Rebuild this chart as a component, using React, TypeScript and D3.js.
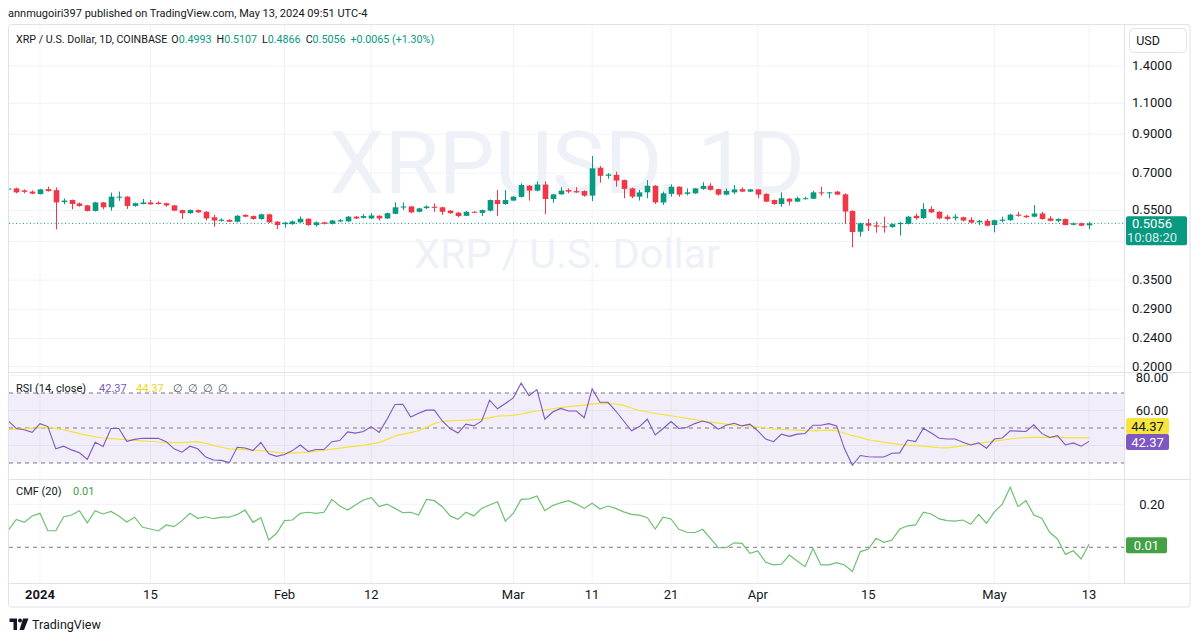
import React from "react";
import * as d3 from "d3";

// ---------- DATA ----------
const FIRST_DAY = "2023-12-28"; // first (partly clipped) daily candle

const opens = [
  0.629, 0.634, 0.626, 0.621, 0.611, 0.631, 0.627, 0.580, 0.588, 0.575,
  0.568, 0.548, 0.579, 0.561, 0.597, 0.601, 0.566, 0.573, 0.579, 0.578,
  0.576, 0.568, 0.551, 0.540, 0.551, 0.545, 0.526, 0.514, 0.517, 0.511,
  0.534, 0.530, 0.520, 0.536, 0.511, 0.503, 0.503, 0.509, 0.521, 0.500,
  0.509, 0.504, 0.512, 0.512, 0.528, 0.524, 0.522, 0.531, 0.522, 0.538,
  0.560, 0.564, 0.545, 0.558, 0.563, 0.561, 0.549, 0.542, 0.531, 0.545,
  0.541, 0.549, 0.588, 0.573, 0.586, 0.600, 0.645, 0.625, 0.650, 0.592,
  0.610, 0.627, 0.623, 0.623, 0.605, 0.725, 0.688, 0.692, 0.669, 0.634,
  0.601, 0.618, 0.645, 0.579, 0.612, 0.641, 0.612, 0.614, 0.632, 0.645,
  0.631, 0.609, 0.618, 0.631, 0.621, 0.630, 0.612, 0.588, 0.573, 0.593,
  0.582, 0.592, 0.593, 0.618, 0.614, 0.621, 0.610, 0.548, 0.479, 0.506,
  0.499, 0.496, 0.494, 0.503, 0.504, 0.531, 0.523, 0.555, 0.545, 0.528,
  0.523, 0.526, 0.517, 0.509, 0.514, 0.500, 0.514, 0.516, 0.535, 0.531,
  0.528, 0.539, 0.522, 0.514, 0.520, 0.501, 0.506, 0.4993,
];
const highs = [
  0.636, 0.637, 0.630, 0.626, 0.632, 0.641, 0.638, 0.594, 0.590, 0.579,
  0.570, 0.581, 0.580, 0.617, 0.621, 0.603, 0.578, 0.592, 0.588, 0.583,
  0.578, 0.570, 0.552, 0.553, 0.553, 0.547, 0.534, 0.522, 0.519, 0.534,
  0.536, 0.532, 0.538, 0.538, 0.513, 0.511, 0.515, 0.529, 0.522, 0.512,
  0.511, 0.517, 0.520, 0.530, 0.530, 0.537, 0.540, 0.533, 0.542, 0.579,
  0.579, 0.566, 0.559, 0.568, 0.575, 0.563, 0.551, 0.544, 0.547, 0.547,
  0.553, 0.590, 0.627, 0.627, 0.603, 0.655, 0.648, 0.663, 0.664, 0.612,
  0.639, 0.634, 0.639, 0.626, 0.782, 0.733, 0.700, 0.706, 0.671, 0.637,
  0.628, 0.669, 0.648, 0.621, 0.651, 0.643, 0.634, 0.636, 0.660, 0.656,
  0.633, 0.634, 0.648, 0.638, 0.632, 0.632, 0.614, 0.590, 0.618, 0.595,
  0.601, 0.601, 0.625, 0.641, 0.620, 0.624, 0.614, 0.550, 0.508, 0.520,
  0.512, 0.528, 0.505, 0.510, 0.530, 0.539, 0.576, 0.565, 0.547, 0.534,
  0.537, 0.528, 0.526, 0.517, 0.520, 0.518, 0.528, 0.538, 0.545, 0.534,
  0.569, 0.545, 0.530, 0.522, 0.522, 0.508, 0.508, 0.5107,
];
const lows = [
  0.627, 0.614, 0.614, 0.611, 0.610, 0.621, 0.486, 0.572, 0.554, 0.563,
  0.546, 0.546, 0.554, 0.549, 0.585, 0.555, 0.563, 0.572, 0.570, 0.571,
  0.563, 0.547, 0.520, 0.538, 0.541, 0.515, 0.495, 0.511, 0.510, 0.509,
  0.526, 0.518, 0.518, 0.507, 0.487, 0.492, 0.501, 0.507, 0.498, 0.495,
  0.502, 0.502, 0.509, 0.511, 0.520, 0.522, 0.520, 0.515, 0.520, 0.536,
  0.551, 0.540, 0.543, 0.555, 0.545, 0.534, 0.538, 0.526, 0.530, 0.541,
  0.530, 0.546, 0.530, 0.570, 0.584, 0.598, 0.586, 0.622, 0.537, 0.578,
  0.608, 0.614, 0.616, 0.601, 0.584, 0.658, 0.675, 0.641, 0.595, 0.595,
  0.586, 0.595, 0.573, 0.570, 0.601, 0.601, 0.606, 0.612, 0.628, 0.625,
  0.605, 0.606, 0.611, 0.619, 0.619, 0.595, 0.580, 0.570, 0.563, 0.568,
  0.580, 0.590, 0.592, 0.605, 0.595, 0.607, 0.503, 0.433, 0.464, 0.481,
  0.476, 0.476, 0.491, 0.467, 0.502, 0.518, 0.520, 0.540, 0.519, 0.515,
  0.515, 0.512, 0.506, 0.500, 0.496, 0.477, 0.509, 0.514, 0.528, 0.524,
  0.526, 0.518, 0.512, 0.509, 0.499, 0.499, 0.496, 0.4866,
];
const closes = [
  0.634, 0.618, 0.620, 0.613, 0.630, 0.623, 0.579, 0.586, 0.573, 0.566,
  0.548, 0.579, 0.561, 0.601, 0.601, 0.566, 0.576, 0.579, 0.572, 0.573,
  0.568, 0.549, 0.540, 0.551, 0.543, 0.522, 0.515, 0.518, 0.511, 0.531,
  0.528, 0.520, 0.536, 0.509, 0.500, 0.508, 0.512, 0.521, 0.500, 0.509,
  0.504, 0.515, 0.516, 0.528, 0.522, 0.530, 0.532, 0.522, 0.540, 0.561,
  0.564, 0.543, 0.557, 0.564, 0.559, 0.545, 0.540, 0.530, 0.545, 0.543,
  0.551, 0.588, 0.573, 0.588, 0.601, 0.648, 0.625, 0.650, 0.592, 0.610,
  0.625, 0.621, 0.618, 0.605, 0.722, 0.688, 0.694, 0.667, 0.632, 0.601,
  0.618, 0.645, 0.579, 0.614, 0.641, 0.609, 0.618, 0.634, 0.644, 0.628,
  0.609, 0.624, 0.630, 0.621, 0.630, 0.609, 0.582, 0.573, 0.595, 0.582,
  0.595, 0.595, 0.618, 0.614, 0.618, 0.609, 0.546, 0.478, 0.506, 0.498,
  0.495, 0.494, 0.503, 0.507, 0.528, 0.523, 0.555, 0.543, 0.522, 0.520,
  0.528, 0.515, 0.508, 0.514, 0.498, 0.516, 0.518, 0.535, 0.531, 0.526,
  0.539, 0.520, 0.514, 0.520, 0.500, 0.506, 0.498, 0.5056,
];
const rsiValues = [
  54.0, 49.7, 49.0, 47.5, 52.5, 50.8, 38.1, 39.6, 37.5, 35.8,
  32.1, 41.8, 39.4, 49.7, 49.7, 42.4, 43.5, 44.1, 44.1, 44.1,
  42.2, 38.1, 36.2, 39.6, 38.1, 33.4, 31.7, 31.5, 30.2, 39.0,
  38.6, 37.1, 41.8, 35.3, 33.8, 34.9, 37.1, 40.3, 36.6, 37.7,
  37.7, 42.2, 42.8, 47.8, 47.1, 48.0, 50.8, 47.5, 55.0, 63.4,
  63.6, 56.3, 58.4, 60.2, 60.2, 54.0, 49.7, 47.1, 52.2, 51.2,
  54.0, 65.9, 61.0, 64.0, 67.2, 75.6, 68.5, 71.9, 55.0, 59.1,
  61.2, 59.7, 59.7, 55.9, 72.3, 64.7, 64.7, 59.7, 54.0, 48.4,
  50.8, 55.0, 46.0, 49.7, 53.7, 49.7, 50.3, 52.5, 54.0, 52.7,
  49.3, 51.6, 52.7, 51.2, 52.2, 48.4, 43.7, 42.2, 46.5, 45.2,
  46.5, 46.9, 51.6, 51.6, 52.5, 51.2, 38.1, 28.7, 34.3, 33.6,
  33.4, 33.4, 35.6, 35.8, 43.1, 42.2, 49.9, 47.1, 44.1, 43.7,
  43.7, 41.8, 40.3, 41.5, 38.4, 43.7, 44.3, 48.4, 48.2, 48.0,
  51.8, 46.9, 44.6, 45.6, 40.3, 41.5, 39.6, 42.37,
];
const rsiMaValues = [
  49.2, 49.4, 49.6, 49.9, 50.2, 50.3, 49.8, 49.0, 47.9, 46.8,
  45.8, 45.0, 44.3, 43.9, 43.6, 43.3, 42.9, 42.6, 42.3, 42.0,
  41.8, 41.6, 41.6, 41.9, 42.2, 41.2, 40.1, 39.0, 38.1, 37.9,
  37.6, 37.3, 37.1, 36.7, 36.1, 35.7, 35.7, 35.9, 36.2, 36.7,
  37.3, 37.9, 38.5, 39.1, 39.6, 40.1, 40.9, 41.8, 43.5, 45.4,
  46.5, 47.4, 48.4, 50.5, 52.6, 53.7, 54.1, 54.3, 54.5, 54.8,
  55.1, 55.8, 56.8, 57.0, 57.2, 58.0, 58.9, 59.7, 60.3, 61.0,
  61.6, 62.2, 62.6, 63.1, 63.8, 63.9, 63.9, 63.7, 62.9, 61.4,
  60.0, 59.3, 58.3, 57.6, 57.0, 56.3, 55.5, 54.8, 54.0, 53.4,
  52.8, 52.2, 51.6, 51.4, 51.2, 50.6, 50.0, 49.5, 49.2, 49.0,
  48.8, 48.5, 48.4, 48.6, 48.8, 48.4, 47.0, 45.6, 44.6, 43.3,
  42.6, 41.8, 41.2, 40.6, 40.2, 40.0, 39.6, 39.2, 38.8, 38.7,
  39.2, 39.9, 40.6, 41.2, 41.9, 42.5, 43.1, 43.7, 44.3, 44.5,
  44.6, 44.6, 44.6, 44.6, 44.5, 44.4, 44.4, 44.37,
];
const cmfValues = [
  0.080, 0.130, 0.116, 0.146, 0.158, 0.077, 0.077, 0.142, 0.150, 0.170,
  0.114, 0.170, 0.155, 0.167, 0.146, 0.118, 0.140, 0.093, 0.085, 0.076,
  0.104, 0.096, 0.124, 0.158, 0.135, 0.142, 0.133, 0.140, 0.140, 0.153,
  0.173, 0.116, 0.138, 0.034, 0.065, 0.124, 0.127, 0.158, 0.163, 0.158,
  0.163, 0.223, 0.192, 0.173, 0.197, 0.220, 0.231, 0.189, 0.201, 0.181,
  0.161, 0.163, 0.150, 0.223, 0.217, 0.189, 0.146, 0.130, 0.163, 0.146,
  0.181, 0.197, 0.212, 0.122, 0.158, 0.223, 0.225, 0.239, 0.170, 0.194,
  0.207, 0.217, 0.201, 0.181, 0.205, 0.178, 0.192, 0.181, 0.165, 0.153,
  0.150, 0.138, 0.085, 0.140, 0.132, 0.084, 0.070, 0.068, 0.084, 0.042,
  -0.002, -0.002, 0.021, 0.018, -0.028, -0.017, -0.070, -0.082, -0.079, -0.036,
  -0.064, -0.090, -0.005, -0.082, -0.082, -0.071, -0.082, -0.113, -0.020, -0.009,
  0.042, 0.023, 0.034, 0.085, 0.100, 0.104, 0.163, 0.155, 0.132, 0.124,
  0.122, 0.127, 0.107, 0.153, 0.112, 0.165, 0.201, 0.279, 0.189, 0.217,
  0.150, 0.135, 0.070, 0.039, -0.033, -0.016, -0.054, 0.014,
];

const priceTicks = [1.4, 1.1, 0.9, 0.7, 0.55, 0.45, 0.35, 0.29, 0.24, 0.2];
const rsiTicks = [80, 60, 40];
const rsiAxisLabels = [80, 60];
const rsiBands = [70, 50, 30];
const cmfTicks = [0.2];
const timeTickDates = [
  "2024-01-01", "2024-01-15", "2024-02-01", "2024-02-12", "2024-03-01", "2024-03-11",
  "2024-03-21", "2024-04-01", "2024-04-15", "2024-05-01", "2024-05-13",
];
const timeTickLabels = ["2024", "15", "Feb", "12", "Mar", "11", "21", "Apr", "15", "May", "13"];

const lastClose = 0.5056;
const lastChange = "+0.0065 (+1.30%)";
const lastRsi = 42.37;
const lastRsiMa = 44.37;
const lastCmf = 0.01;

// ---------- LAYOUT ----------
const W = 1200;
const H = 640;
const PL = 9; // plot left
const PR = 1124; // plot right / price axis start
const FR = 1190; // frame right
const P_TOP = 24;
const P_BOT = 372;
const R_BOT = 479;
const C_BOT = 583;
const A_BOT = 607;

const UP = "#089981";
const DOWN = "#f23645";
const GRID = "#f0f3fa";
const TEXT = "#131722";
const FONT = "Roboto, 'Liberation Sans', Arial, sans-serif";

const DAY = 86400000;
const jan1 = Date.UTC(2024, 0, 1);
const first = new Date(FIRST_DAY + "T00:00:00Z");
const dates = opens.map((_, i) => d3.utcDay.offset(first, i));

const x = d3
  .scaleUtc()
  .domain([new Date(jan1 - 3.93 * DAY), new Date(jan1 + 137.43 * DAY)])
  .range([PL, PR]);

const yPrice = d3.scaleLog().domain([0.1932, 1.8256]).range([372, 25]);
const yRsi = d3.scaleLinear().domain([20.857, 82]).range([479, 372]);
const yCmf = d3.scaleLinear().domain([-0.166, 0.3177]).range([583, 479]);

const fmt4 = d3.format(".4f");
const fmt2 = d3.format(".2f");

export default function App() {
  const bodyW = 5.6;
  const rsiLine = d3
    .line<number>()
    .x((_, i) => x(dates[i]))
    .y((v) => yRsi(v));
  const cmfLine = d3
    .line<number>()
    .x((_, i) => x(dates[i]))
    .y((v) => yCmf(v));
  const tickX = timeTickDates.map((s) => x(new Date(s + "T00:00:00Z")));
  const yLast = yPrice(lastClose);
  const boxTop = yLast - 7;
  const boxBot = yLast + 22;
  // labels hidden behind the last-price box (as in the reference)
  const visiblePriceLabels = priceTicks.filter((p) => {
    const ty = yPrice(p);
    return ty < boxTop - 5 || ty > boxBot + 5;
  });
  const n = opens.length - 1;

  return (
    <svg
      width={W}
      height={H}
      viewBox={`0 0 ${W} ${H}`}
      style={{ position: "absolute", left: 0, top: 0, display: "block", background: "#fff" }}
      fontFamily={FONT}
    >
      <defs>
        <clipPath id="clipPrice">
          <rect x={PL} y={P_TOP} width={PR - PL} height={P_BOT - P_TOP} />
        </clipPath>
        <clipPath id="clipRsi">
          <rect x={PL} y={P_BOT} width={PR - PL} height={R_BOT - P_BOT} />
        </clipPath>
        <clipPath id="clipCmf">
          <rect x={PL} y={R_BOT} width={PR - PL} height={C_BOT - R_BOT} />
        </clipPath>
        <clipPath id="clipRsiAxis">
          <rect x={PR} y={P_BOT + 1} width={FR - PR} height={R_BOT - P_BOT - 1} />
        </clipPath>
      </defs>
      <rect x={0} y={0} width={W} height={H} fill="#fff" />

      {/* publisher line */}
      <text x={8} y={17} fontSize={11} fill={TEXT}>
        annmugoiri397 published on TradingView.com, May 13, 2024 09:51 UTC-4
      </text>

      {/* frame */}
      <rect x={8.5} y={P_TOP + 0.5} width={FR - 8.5} height={A_BOT - P_TOP - 0.5} rx={3} fill="#fff" stroke="#e0e3eb" />

      {/* vertical grid */}
      {tickX.map((tx, i) => (
        <line key={"vg" + i} x1={tx} x2={tx} y1={P_TOP + 1} y2={C_BOT} stroke={GRID} />
      ))}
      {/* price grid */}
      {priceTicks.map((p) => (
        <line key={"pg" + p} x1={PL} x2={PR} y1={yPrice(p)} y2={yPrice(p)} stroke={GRID} />
      ))}
      {/* rsi grid */}
      {rsiTicks.map((v) => (
        <line key={"rg" + v} x1={PL} x2={PR} y1={yRsi(v)} y2={yRsi(v)} stroke={GRID} clipPath="url(#clipRsi)" />
      ))}
      {cmfTicks.map((v) => (
        <line key={"cg" + v} x1={PL} x2={PR} y1={yCmf(v)} y2={yCmf(v)} stroke={GRID} />
      ))}

      {/* watermark */}
      <text x={567} y={193} fontSize={88} textAnchor="middle" fill="#eef1f8" textLength={476} lengthAdjust="spacingAndGlyphs">
        XRPUSD, 1D
      </text>
      <text x={567} y={268} fontSize={41} textAnchor="middle" fill="#eef1f8" textLength={306} lengthAdjust="spacingAndGlyphs">
        XRP / U.S. Dollar
      </text>

      {/* price line */}
      <line x1={PL} x2={PR} y1={yLast} y2={yLast} stroke={UP} strokeWidth={1} strokeDasharray="1 2.5" />

      {/* candles */}
      <g clipPath="url(#clipPrice)">
        {dates.map((dt, i) => {
          const cx = Math.round(x(dt)) + 0.5;
          const o = opens[i];
          const c = closes[i];
          const col = c >= o ? UP : DOWN;
          const yTop = yPrice(Math.max(o, c));
          const yB = yPrice(Math.min(o, c));
          return (
            <g key={"c" + i}>
              <line x1={cx} x2={cx} y1={yPrice(highs[i])} y2={yPrice(lows[i])} stroke={col} strokeWidth={1} />
              <rect x={cx - bodyW / 2} y={yTop} width={bodyW} height={Math.max(1, yB - yTop)} fill={col} />
            </g>
          );
        })}
      </g>

      {/* legend (one text element) */}
      <text x={16} y={43} fontSize={10.7} fill={TEXT}>
        <tspan>XRP / U.S. Dollar, 1D, COINBASE</tspan>
        <tspan dx={4}>O</tspan>
        <tspan fill={UP}>{fmt4(opens[n])}</tspan>
        <tspan dx={5}>H</tspan>
        <tspan fill={UP}>{fmt4(highs[n])}</tspan>
        <tspan dx={5}>L</tspan>
        <tspan fill={UP}>{fmt4(lows[n])}</tspan>
        <tspan dx={5}>C</tspan>
        <tspan fill={UP}>{fmt4(closes[n])}</tspan>
        <tspan dx={5} fill={UP}>{lastChange}</tspan>
      </text>

      {/* pane separators */}
      <line x1={8.5} x2={FR} y1={P_BOT + 0.5} y2={P_BOT + 0.5} stroke="#e0e3eb" />
      <line x1={8.5} x2={FR} y1={R_BOT + 0.5} y2={R_BOT + 0.5} stroke="#e0e3eb" />
      <line x1={8.5} x2={FR} y1={C_BOT + 0.5} y2={C_BOT + 0.5} stroke="#e0e3eb" />

      {/* RSI pane */}
      <rect x={PL} y={yRsi(70)} width={PR - PL} height={yRsi(30) - yRsi(70)} fill="rgba(126,87,194,0.1)" />
      {rsiBands.map((v) => (
        <line key={"rb" + v} x1={PL} x2={PR} y1={yRsi(v)} y2={yRsi(v)} stroke="#787b86" strokeDasharray="4 4" strokeWidth={1} />
      ))}
      <g clipPath="url(#clipRsi)">
        <path d={rsiLine(rsiMaValues) || ""} fill="none" stroke="#f5e23b" strokeWidth={1.2} />
        <path d={rsiLine(rsiValues) || ""} fill="none" stroke="#7e57c2" strokeWidth={1.1} />
      </g>
      <g fontSize={11}>
        <text x={16} y={392} fill={TEXT}>RSI (14, close)</text>
        <text x={99} y={392} fill="#7e57c2">{fmt2(lastRsi)}</text>
        <text x={136} y={392} fill="#f0d61a">{fmt2(lastRsiMa)}</text>
        {[173, 188, 203, 218].map((tx) => (
          <text key={"e" + tx} x={tx} y={392} fill="#50535e">∅</text>
        ))}
      </g>

      {/* CMF pane */}
      <line x1={PL} x2={PR} y1={yCmf(0)} y2={yCmf(0)} stroke="#787b86" strokeDasharray="4 4" />
      <g clipPath="url(#clipCmf)">
        <path d={cmfLine(cmfValues) || ""} fill="none" stroke="#6cc070" strokeWidth={1.2} />
      </g>
      <g fontSize={11}>
        <text x={16} y={495} fill={TEXT}>CMF (20)</text>
        <text x={73} y={495} fill="#43a047">{fmt2(lastCmf)}</text>
      </g>

      {/* price axis */}
      <line x1={PR + 0.5} x2={PR + 0.5} y1={P_TOP + 1} y2={C_BOT} stroke="#e0e3eb" />
      <g fontSize={13} fill={TEXT} textAnchor="middle">
        {visiblePriceLabels.map((p) => (
          <text key={"pt" + p} x={1152} y={yPrice(p) + 4}>{fmt4(p)}</text>
        ))}
      </g>
      <rect x={1126} y={boxTop} width={61} height={boxBot - boxTop} rx={2} fill={UP} />
      <text x={1152} y={yLast + 4.5} fontSize={13} fill="#fff" textAnchor="middle">{fmt4(lastClose)}</text>
      <text x={1152} y={yLast + 19} fontSize={13} fill="rgba(255,255,255,0.85)" textAnchor="middle">10:08:20</text>

      {/* USD button */}
      <rect x={1129.5} y={28.5} width={57} height={24} rx={4} fill="#fff" stroke="#e0e3eb" />
      <text x={1148} y={45} fontSize={12.5} fill={TEXT} textAnchor="middle">USD</text>

      {/* RSI axis */}
      <g fontSize={13} fill={TEXT} textAnchor="middle" clipPath="url(#clipRsiAxis)">
        {rsiAxisLabels.map((v) => (
          <text key={"ra" + v} x={1152} y={yRsi(v) + 4.5 + (v === 80 ? 1.5 : 0)}>{fmt2(v)}</text>
        ))}
      </g>
      <rect x={1126} y={418} width={43} height={16} rx={2} fill="#f7e43d" />
      <text x={1147.5} y={430.5} fontSize={13} fill={TEXT} textAnchor="middle">{fmt2(lastRsiMa)}</text>
      <rect x={1126} y={434} width={43} height={16} rx={2} fill="#7e57c2" />
      <text x={1147.5} y={446.5} fontSize={13} fill="#fff" textAnchor="middle">{fmt2(lastRsi)}</text>

      {/* CMF axis */}
      <text x={1152} y={yCmf(0.2) + 4.5} fontSize={13} fill={TEXT} textAnchor="middle">{fmt2(0.2)}</text>
      <rect x={1126} y={yCmf(lastCmf) - 8} width={41} height={16} rx={2} fill="#43a047" />
      <text x={1146.5} y={yCmf(lastCmf) + 4.5} fontSize={13} fill="#fff" textAnchor="middle">{fmt2(lastCmf)}</text>

      {/* time axis */}
      <g fontSize={13} fill={TEXT} textAnchor="middle">
        {timeTickLabels.map((lab, i) => (
          <text key={"tl" + i} x={tickX[i]} y={599} fontWeight={i === 0 ? 700 : 400}>{lab}</text>
        ))}
      </g>

      {/* TradingView logo */}
      <g fill={TEXT}>
        <path d="M9.5 618.5 H17 V630 H13.5 V622 H9.5 Z" />
        <circle cx={20} cy={620.5} r={2} />
        <path d="M23 618.5 H28.5 L24 630 H19.5 Z" />
      </g>
      <text x={32} y={629} fontSize={12.5} fill={TEXT}>TradingView</text>
    </svg>
  );
}
